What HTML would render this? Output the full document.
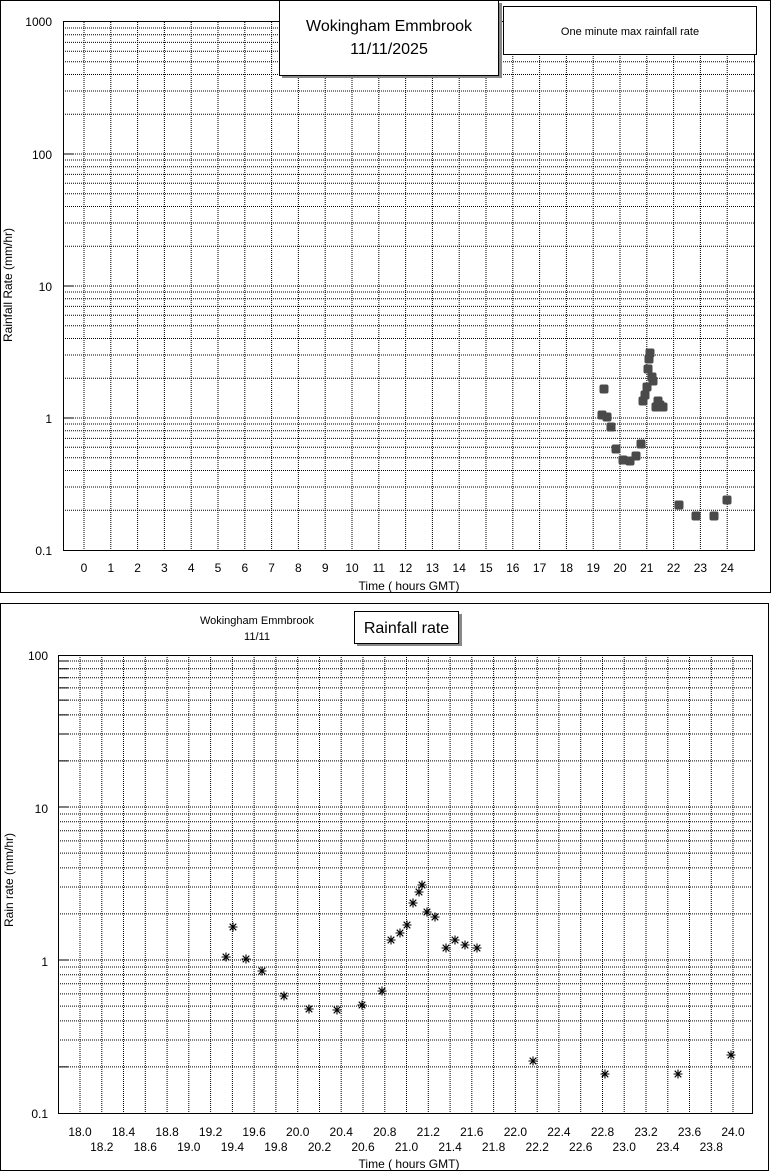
<!DOCTYPE html>
<html><head><meta charset="utf-8"><style>
html,body{margin:0;padding:0;background:#fff}
svg{display:block;font-family:"Liberation Sans",Arial,sans-serif}
</style></head><body>
<svg width="772" height="1172" viewBox="0 0 772 1172" xmlns="http://www.w3.org/2000/svg">
<defs>
<symbol id="st" viewBox="-5 -5 10 10" overflow="visible"><path d="M-4.5 0H4.5M0 -4.5V4.5M-3.3 -3.3L3.3 3.3M-3.3 3.3L3.3 -3.3" stroke="#000" stroke-width="1.1"/></symbol>
</defs>
<rect x="0" y="0" width="772" height="1172" fill="#fff"/>
<rect x="0.5" y="0.5" width="770" height="592" fill="none" stroke="#000"/>
<g stroke="#000" stroke-width="1" stroke-dasharray="1,1" fill="none">
<path d="M63 510.3H755M63 487H755M63 470.5H755M63 457.7H755M63 447.3H755M63 438.4H755M63 430.8H755M63 424H755M63 418H755M63 378.3H755M63 355H755M63 338.5H755M63 325.7H755M63 315.3H755M63 306.4H755M63 298.8H755M63 292H755M63 286H755M63 246.3H755M63 223H755M63 206.5H755M63 193.7H755M63 183.3H755M63 174.4H755M63 166.8H755M63 160H755M63 154H755M63 114.3H755M63 91H755M63 74.5H755M63 61.7H755M63 51.3H755M63 42.4H755M63 34.8H755M63 28H755"/>
<path d="M84 22V550M110.8 22V550M137.6 22V550M164.4 22V550M191.2 22V550M218 22V550M244.8 22V550M271.6 22V550M298.4 22V550M325.2 22V550M352 22V550M378.8 22V550M405.6 22V550M432.4 22V550M459.2 22V550M486 22V550M512.8 22V550M539.6 22V550M566.4 22V550M593.2 22V550M620 22V550M646.8 22V550M673.6 22V550M700.4 22V550M727.2 22V550"/>
</g>
<path d="M63 154H73M63 286H73M63 418H73" stroke="#000"/>
<rect x="63.5" y="21.5" width="691" height="529" fill="none" stroke="#000"/>
<g font-size="12" text-anchor="end" fill="#000">
<text x="52" y="26">1000</text><text x="52" y="159">100</text><text x="52" y="291">10</text><text x="52" y="423">1</text><text x="52" y="555">0.1</text>
</g>
<g font-size="12" text-anchor="middle" fill="#000">
<text x="84" y="572">0</text><text x="110.8" y="572">1</text><text x="137.6" y="572">2</text><text x="164.4" y="572">3</text><text x="191.2" y="572">4</text><text x="218" y="572">5</text><text x="244.8" y="572">6</text><text x="271.6" y="572">7</text><text x="298.4" y="572">8</text><text x="325.2" y="572">9</text><text x="352" y="572">10</text><text x="378.8" y="572">11</text><text x="405.6" y="572">12</text><text x="432.4" y="572">13</text><text x="459.2" y="572">14</text><text x="486" y="572">15</text><text x="512.8" y="572">16</text><text x="539.6" y="572">17</text><text x="566.4" y="572">18</text><text x="593.2" y="572">19</text><text x="620" y="572">20</text><text x="646.8" y="572">21</text><text x="673.6" y="572">22</text><text x="700.4" y="572">23</text><text x="727.2" y="572">24</text>
<text x="409" y="590">Time ( hours GMT)</text>
<text transform="translate(12,285) rotate(-90)">Rainfall Rate (mm/hr)</text>
</g>
<rect x="282" y="3" width="220" height="75" fill="#888"/>
<rect x="279.5" y="0.5" width="219" height="75" fill="#fff" stroke="#000"/>
<text x="389" y="31" font-size="16" text-anchor="middle">Wokingham Emmbrook</text>
<text x="389" y="54" font-size="16" text-anchor="middle">11/11/2025</text>
<rect x="503.5" y="6.5" width="253" height="48" fill="#fff" stroke="#000"/>
<text x="630" y="35" font-size="11" text-anchor="middle">One minute max rainfall rate</text>
<g fill="#4a4a4a">
<rect x="597.5" y="410.5" width="9" height="9" rx="2"/><rect x="599.5" y="384.5" width="9" height="9" rx="2"/><rect x="602.5" y="412.5" width="9" height="9" rx="2"/><rect x="606.5" y="422.5" width="9" height="9" rx="2"/><rect x="611.5" y="444.5" width="9" height="9" rx="2"/><rect x="618.5" y="455.5" width="9" height="9" rx="2"/><rect x="625.5" y="456.5" width="9" height="9" rx="2"/><rect x="631.5" y="451.5" width="9" height="9" rx="2"/><rect x="636.5" y="439.5" width="9" height="9" rx="2"/><rect x="638.5" y="396.5" width="9" height="9" rx="2"/><rect x="640.5" y="390.5" width="9" height="9" rx="2"/><rect x="642.5" y="382.5" width="9" height="9" rx="2"/><rect x="643.5" y="364.5" width="9" height="9" rx="2"/><rect x="644.5" y="354.5" width="9" height="9" rx="2"/><rect x="645.5" y="348.5" width="9" height="9" rx="2"/><rect x="647.5" y="372.5" width="9" height="9" rx="2"/><rect x="648.5" y="376.5" width="9" height="9" rx="2"/><rect x="651.5" y="402.5" width="9" height="9" rx="2"/><rect x="653.5" y="396.5" width="9" height="9" rx="2"/><rect x="655.5" y="400.5" width="9" height="9" rx="2"/><rect x="658.5" y="402.5" width="9" height="9" rx="2"/><rect x="674.5" y="500.5" width="9" height="9" rx="2"/><rect x="691.5" y="511.5" width="9" height="9" rx="2"/><rect x="709.5" y="511.5" width="9" height="9" rx="2"/><rect x="722.5" y="495.5" width="9" height="9" rx="2"/>
</g>
<rect x="0.5" y="603.5" width="768" height="567" fill="none" stroke="#000"/>
<g stroke="#000" stroke-width="1" stroke-dasharray="1,1" fill="none">
<path d="M58 1066.9H753M58 1040H753M58 1020.9H753M58 1006.1H753M58 993.9H753M58 983.7H753M58 974.8H753M58 967H753M58 960H753M58 913.9H753M58 887H753M58 867.9H753M58 853.1H753M58 840.9H753M58 830.7H753M58 821.8H753M58 814H753M58 807H753M58 760.9H753M58 734H753M58 714.9H753M58 700.1H753M58 687.9H753M58 677.7H753M58 668.8H753M58 661H753"/>
<path d="M80 655V1113M101.8 655V1113M123.5 655V1113M145.3 655V1113M167.1 655V1113M188.8 655V1113M210.6 655V1113M232.4 655V1113M254.1 655V1113M275.9 655V1113M297.7 655V1113M319.5 655V1113M341.2 655V1113M363 655V1113M384.8 655V1113M406.5 655V1113M428.3 655V1113M450.1 655V1113M471.8 655V1113M493.6 655V1113M515.4 655V1113M537.2 655V1113M558.9 655V1113M580.7 655V1113M602.5 655V1113M624.2 655V1113M646 655V1113M667.8 655V1113M689.5 655V1113M711.3 655V1113M733 655V1113"/>
</g>
<path d="M58 661H68M58 668.8H68M58 677.7H68M58 687.9H68M58 700.1H68M58 714.9H68M58 734H68M58 760.9H68M58 807H68M58 960H68M58 1066.9H68" stroke="#000"/>
<rect x="58.5" y="655.5" width="694" height="458" fill="none" stroke="#000"/>
<g font-size="12" text-anchor="end">
<text x="48" y="660">100</text><text x="48" y="813">10</text><text x="48" y="966">1</text><text x="48" y="1118">0.1</text>
</g>
<g font-size="12" text-anchor="middle">
<text x="80" y="1136">18.0</text><text x="123.5" y="1136">18.4</text><text x="167.1" y="1136">18.8</text><text x="210.6" y="1136">19.2</text><text x="254.1" y="1136">19.6</text><text x="297.7" y="1136">20.0</text><text x="341.2" y="1136">20.4</text><text x="384.8" y="1136">20.8</text><text x="428.3" y="1136">21.2</text><text x="471.8" y="1136">21.6</text><text x="515.4" y="1136">22.0</text><text x="558.9" y="1136">22.4</text><text x="602.5" y="1136">22.8</text><text x="646" y="1136">23.2</text><text x="689.5" y="1136">23.6</text><text x="733" y="1136">24.0</text>
<text x="101.8" y="1151">18.2</text><text x="145.3" y="1151">18.6</text><text x="188.8" y="1151">19.0</text><text x="232.4" y="1151">19.4</text><text x="275.9" y="1151">19.8</text><text x="319.5" y="1151">20.2</text><text x="363" y="1151">20.6</text><text x="406.5" y="1151">21.0</text><text x="450.1" y="1151">21.4</text><text x="493.6" y="1151">21.8</text><text x="537.2" y="1151">22.2</text><text x="580.7" y="1151">22.6</text><text x="624.2" y="1151">23.0</text><text x="667.8" y="1151">23.4</text><text x="711.3" y="1151">23.8</text>
<text x="409" y="1168">Time ( hours GMT)</text>
<text transform="translate(13,880) rotate(-90)">Rain rate (mm/hr)</text>
</g>
<text x="257" y="624" font-size="11" text-anchor="middle">Wokingham Emmbrook</text>
<text x="257" y="640" font-size="11" text-anchor="middle">11/11</text>
<rect x="357" y="614" width="105" height="32" fill="#888"/>
<rect x="354.5" y="611.5" width="104" height="32" fill="#fff" stroke="#000"/>
<text x="406.5" y="633" font-size="16" text-anchor="middle">Rainfall rate</text>
<g>
<use href="#st" x="221" y="952" width="10" height="10"/><use href="#st" x="228" y="922" width="10" height="10"/><use href="#st" x="241" y="954" width="10" height="10"/><use href="#st" x="257" y="966" width="10" height="10"/><use href="#st" x="279" y="991" width="10" height="10"/><use href="#st" x="304" y="1004" width="10" height="10"/><use href="#st" x="332" y="1005" width="10" height="10"/><use href="#st" x="357" y="1000" width="10" height="10"/><use href="#st" x="377" y="986" width="10" height="10"/><use href="#st" x="386" y="935" width="10" height="10"/><use href="#st" x="395" y="928" width="10" height="10"/><use href="#st" x="402" y="920" width="10" height="10"/><use href="#st" x="408" y="898" width="10" height="10"/><use href="#st" x="414" y="887" width="10" height="10"/><use href="#st" x="417" y="880" width="10" height="10"/><use href="#st" x="422" y="907" width="10" height="10"/><use href="#st" x="430" y="912" width="10" height="10"/><use href="#st" x="441" y="943" width="10" height="10"/><use href="#st" x="450" y="935" width="10" height="10"/><use href="#st" x="460" y="940" width="10" height="10"/><use href="#st" x="472" y="943" width="10" height="10"/><use href="#st" x="528" y="1056" width="10" height="10"/><use href="#st" x="600" y="1069" width="10" height="10"/><use href="#st" x="673" y="1069" width="10" height="10"/><use href="#st" x="726" y="1050" width="10" height="10"/>
</g>
</svg>
</body></html>
